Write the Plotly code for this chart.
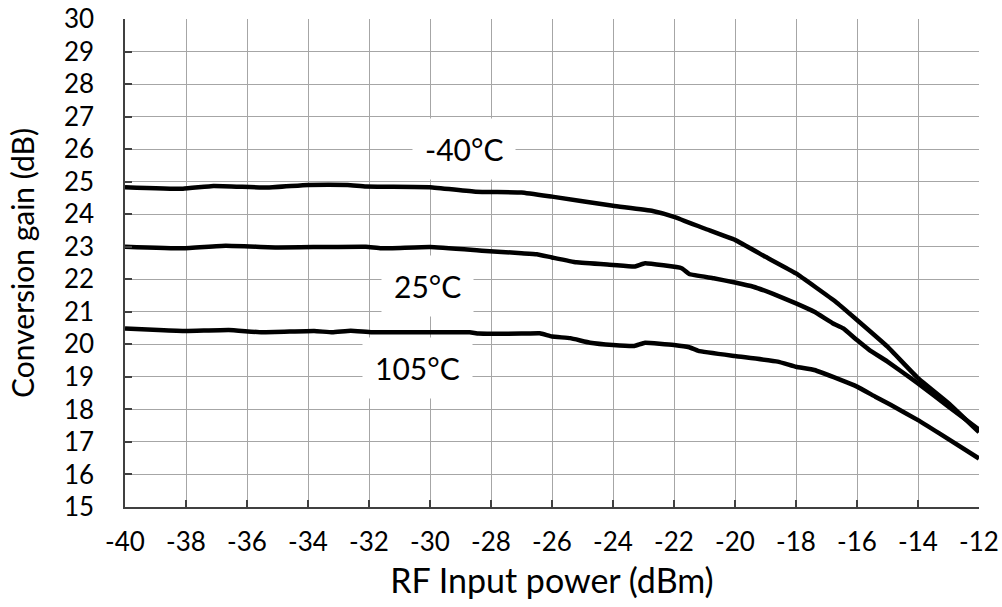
import plotly.graph_objects as go

# -40°C curve
x_m40 = [-40, -38.1, -37.1, -35.3, -34, -32.7, -32.1, -30, -28.5, -27, -26, -24, -22.7, -22, -21, -20, -19, -18, -16.7, -16, -15, -14, -13, -12]
y_m40 = [24.83, 24.78, 24.87, 24.82, 24.90, 24.90, 24.85, 24.83, 24.69, 24.67, 24.54, 24.26, 24.10, 23.92, 23.56, 23.21, 22.69, 22.18, 21.31, 20.75, 19.93, 18.96, 18.19, 17.30]

# 25°C curve
x_25 = [-40, -38.1, -36.7, -35, -32.1, -31.6, -30, -28.3, -27, -26.5, -26, -25.2, -24, -23.3, -22.95, -21.75, -21.5, -20.7, -20, -19.4, -18.75, -18, -17.4, -16.8, -16.45, -16, -15.6, -15, -14, -13, -12]
y_25 = [23.00, 22.95, 23.03, 22.98, 23.00, 22.95, 22.99, 22.88, 22.80, 22.77, 22.67, 22.52, 22.44, 22.39, 22.49, 22.34, 22.16, 22.03, 21.90, 21.77, 21.55, 21.26, 21.00, 20.65, 20.49, 20.13, 19.83, 19.47, 18.80, 18.08, 17.38]

# 105°C curve
x_105 = [-40, -38.9, -38, -36.6, -35.5, -33.8, -33.2, -32.6, -31.9, -28.7, -28.4, -27, -26.4, -26, -25.4, -24.75, -24, -23.3, -22.95, -22, -21.5, -21.2, -20, -18.6, -18, -17.4, -16.6, -16, -15.4, -14.9, -14, -13.3, -12]
y_105 = [20.49, 20.44, 20.41, 20.44, 20.37, 20.41, 20.37, 20.42, 20.37, 20.37, 20.33, 20.33, 20.34, 20.24, 20.19, 20.05, 19.98, 19.95, 20.05, 19.98, 19.91, 19.80, 19.64, 19.47, 19.31, 19.21, 18.93, 18.70, 18.39, 18.14, 17.67, 17.26, 16.49]

series_labels = ["-40°C", "25°C", "105°C"]
x_ticks = list(range(-40, -11, 2))
y_ticks = list(range(15, 31, 1))

FONT = "Lato"
fig = go.Figure()
for xs, ys, name in [(x_m40, y_m40, series_labels[0]), (x_25, y_25, series_labels[1]), (x_105, y_105, series_labels[2])]:
    fig.add_trace(go.Scatter(x=xs, y=ys, mode="lines", name=name,
                             line=dict(color="black", width=4.5, shape="spline", smoothing=0.3)))

label_pos = [(-28.9, 26.0), (-30.07, 21.8), (-30.4, 19.27)]
for (ax_, ay_), txt in zip(label_pos, series_labels):
    fig.add_annotation(x=ax_, y=ay_, text=txt, showarrow=False,
                       font=dict(family=FONT, size=30, color="black"),
                       bgcolor="white", borderpad=12)

axis_common = dict(showgrid=True, gridcolor="#a6a6a6", gridwidth=1,
                   showline=True, linecolor="#404040", linewidth=1.5,
                   ticks="inside", ticklen=7, tickcolor="#404040", tickwidth=1.5,
                   tickfont=dict(family=FONT, size=26, color="black"),
                   ticklabeloverflow="allow",
                   zeroline=False, automargin=False)

fig.update_xaxes(range=[-40, -12], tickvals=x_ticks, ticktext=[str(v) for v in x_ticks],
                 ticklabelstandoff=11,
                 title=dict(text="RF Input power (dBm)", font=dict(family=FONT, size=34, color="black"), standoff=13),
                 **axis_common)
fig.update_yaxes(range=[15, 30], tickvals=y_ticks, ticktext=[str(v) for v in y_ticks],
                 ticklabelstandoff=24,
                 title=dict(text="Conversion gain (dB)", font=dict(family=FONT, size=30, color="black"), standoff=20),
                 **axis_common)

fig.update_layout(width=1002, height=607, showlegend=False,
                  margin=dict(l=125, r=23, t=19, b=100),
                  plot_bgcolor="white", paper_bgcolor="white")

# remove the browser's default 8px body margin so the figure fills the window exactly
fig.write_html("out.html",
               config={"displayModeBar": False},
               post_script="document.body.style.margin='0';document.body.style.overflow='hidden';")
